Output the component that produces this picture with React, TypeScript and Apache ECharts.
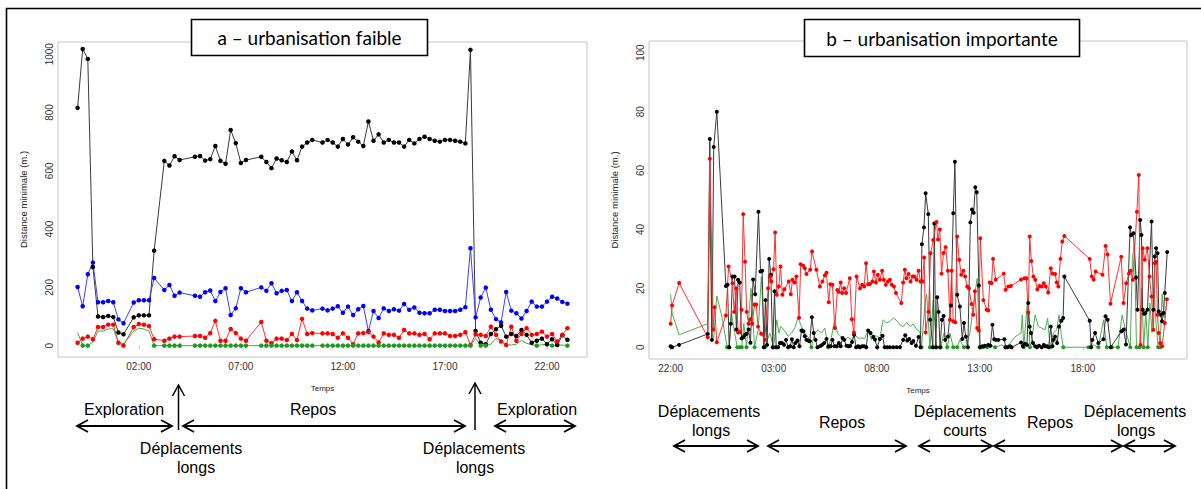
import React, { useEffect, useRef } from "react";
import * as echarts from "echarts";

// ---------- Panel a : urbanisation faible (hours; -1 = 23:00 the day before) ----------
const aTimes = [
  -1, -0.75, -0.5, -0.25, 0, 0.25, 0.5, 0.75, 1, 1.25,
  1.75, 2, 2.25, 2.5, 2.75,
  3.25, 3.5, 3.75, 4,
  4.75, 5, 5.25, 5.5, 5.75, 6, 6.25, 6.5, 6.75, 7, 7.25,
  8, 8.25, 8.5, 8.75, 9, 9.25, 9.5, 9.75, 10, 10.25, 10.5,
  11, 11.25, 11.5, 11.75, 12, 12.25, 12.5, 12.75, 13, 13.25,
  13.5, 13.75, 14, 14.25, 14.5, 14.75, 15, 15.25, 15.5, 15.75,
  16, 16.25, 16.5, 16.75, 17, 17.25, 17.5, 17.75, 18, 18.25,
  18.5, 18.75, 19, 19.25, 19.5, 19.75, 20, 20.25, 20.5, 20.75,
  21, 21.25, 21.5, 21.75, 22, 22.25, 22.5, 22.75, 23,
];
const aBlack = [
  816, 1018, 984, 270, 100, 98, 102, 98, 45, 39,
  97, 104, 104, 104, 326,
  634, 618, 650, 637,
  648, 651, 635, 640, 685, 634, 624, 740, 695, 627, 637,
  648, 630, 609, 642, 636, 630, 666, 636, 683, 697, 706,
  697, 706, 697, 683, 709, 690, 715, 700, 685, 769,
  703, 725, 697, 706, 697, 697, 683, 706, 694, 709,
  717, 709, 703, 700, 706, 706, 703, 700, 694, 1015,
  50, 10, 5, 40, 56, 68, 31, 40, 33, 54,
  37, 10, 17, 24, 5, 22, 2, 36, 20,
];
const aBlue = [
  201, 135, 245, 285, 149, 149, 153, 149, 90, 77,
  148, 156, 156, 156, 232,
  191, 208, 171, 182,
  171, 168, 183, 189, 153, 184, 197, 105, 128, 197, 183,
  200, 188, 214, 180, 188, 191, 153, 183, 153, 127, 121,
  127, 121, 127, 135, 113, 134, 105, 125, 136, 50,
  119, 95, 128, 119, 125, 120, 143, 123, 131, 113,
  111, 111, 123, 123, 119, 119, 119, 123, 132, 334,
  97, 165, 199, 123, 91, 80, 184, 120, 111, 93,
  119, 151, 134, 134, 151, 168, 162, 150, 144,
];
const aRed = [
  10, 24, 31, 22, 64, 64, 72, 72, 10, 0,
  64, 74, 72, 67, 22,
  17, 24, 31, 31,
  33, 33, 27, 43, 85, 17, 17, 57, 43, 24, 17,
  81, 17, 8, 24, 24, 19, 40, 19, 92, 40, 43,
  42, 42, 40, 27, 42, 27, 5, 42, 43, 47,
  31, 11, 42, 37, 37, 27, 54, 42, 42, 37,
  40, 22, 42, 42, 42, 33, 33, 37, 46, 2,
  39, 37, 33, 65, 37, 14, 2, 65, 17, 40,
  60, 37, 40, 48, 31, 40, 14, 37, 60,
];
const aGreen = [
  45, 0, 0, 12, 50, 50, 57, 58, 10, 5,
  50, 60, 57, 50, 0,
  0, 0, 0, 0,
  0, 0, 0, 0, 0, 0, 0, 0, 0, 0, 0,
  0, 0, 0, 0, 0, 0, 0, 0, 0, 0, 0,
  0, 0, 0, 0, 0, 0, 0, 0, 0, 0,
  0, 0, 0, 0, 0, 0, 0, 0, 0, 0,
  0, 0, 0, 0, 0, 0, 0, 0, 0, 0,
  25, 0, 0, 5, 25, 15, 3, 2, 5, 18,
  8, 3, 0, 3, 5, 0, 2, 2, 0,
];
const aXTicks = [2, 7, 12, 17, 22];
const aXTickLabels = ["02:00", "07:00", "12:00", "17:00", "22:00"];
const aYTicks = [0, 200, 400, 600, 800, 1000];

// ---------- Panel b : urbanisation importante (hours; 24 = midnight) ----------
const bBlack = [
  [22.0, 0.3], [22.07, 0], [22.41, 0.8], [23.8, 4.5], [23.9, 70.7], [24.0, 2.5], [24.09, 68], [24.24, 80],
  [24.68, 20.8], [24.76, 21.2], [24.84, 0], [24.92, 8], [25.0, 24], [25.1, 24], [25.19, 6], [25.27, 22.9],
  [25.35, 22], [25.44, 3], [25.52, 3.4], [25.61, 4.2], [25.69, 4.6], [25.78, 6], [25.87, 1.5], [26.0, 23],
  [26.1, 18], [26.26, 46], [26.36, 25.7], [26.44, 26], [26.52, 0], [26.6, 16], [26.68, 0.8], [26.78, 30],
  [26.86, 24.6], [26.95, 0], [27.04, 19], [27.12, 0], [27.21, 0], [27.3, 1.4], [27.4, 1.4], [27.5, 0.8],
  [27.6, 2.5], [27.7, 0], [27.8, 0.3], [27.88, 2.7], [27.97, 0], [28.05, 1.4], [28.15, 2.3], [28.25, 0.3],
  [28.35, 5.7], [28.44, 5.4], [28.51, 3.7], [28.59, 2.5], [28.67, 2.3], [28.75, 2.0], [28.85, 10.2], [28.94, 4.8],
  [29.03, 2.5], [29.12, 0], [29.25, 0.3], [29.35, 0.8], [29.45, 1.4], [29.56, 2.8], [29.66, 0.3], [29.77, 0.3],
  [29.85, 2.5], [29.96, 0.3], [30.06, 0.3], [30.16, 1.4], [30.25, 0.3], [30.34, 3.1], [30.42, 2.5], [30.53, 0.5],
  [30.63, 0.3], [30.71, 0.5], [30.8, 1.8], [30.9, 4.2], [31.0, 0], [31.1, 0.3], [31.18, 0], [31.29, 0.3],
  [31.39, 0.3], [31.49, 0], [31.58, 5.7], [31.7, 4.8], [31.83, 3.5], [31.91, 2.6], [32.02, 0], [32.15, 2.8],
  [32.28, 3.9], [32.38, 0], [32.51, 0], [32.64, 0], [32.8, 0], [32.96, 0], [33.12, 0], [33.28, 2.5],
  [33.38, 4.1], [33.48, 2.3], [33.57, 2.8], [33.69, 1.4], [33.77, 2.1], [33.9, 0.5], [34.03, 3.5], [34.12, 0],
  [34.19, 35], [34.29, 40.7], [34.37, 52.3], [34.5, 45.2], [34.59, 9.3], [34.72, 0], [34.79, 42], [34.86, 0],
  [34.93, 17], [35.0, 12], [35.07, 0], [35.16, 9.3], [35.24, 10.6], [35.32, 2.5], [35.45, 3.6], [35.6, 14.2],
  [35.71, 45.5], [35.79, 63], [35.9, 17.8], [36.03, 13.8], [36.15, 2.8], [36.23, 8.2], [36.32, 3.6], [36.42, 0],
  [36.54, 42.4], [36.62, 46.8], [36.7, 45.7], [36.78, 54.3], [36.85, 52.6], [36.95, 21], [37.01, 0], [37.13, 0.3],
  [37.25, 0.5], [37.41, 0.8], [37.51, 0.5], [37.61, 7.6], [37.7, 2.7], [37.78, 2.5], [37.9, 2.5], [38.19, 2.7],
  [38.25, 0], [38.35, 0], [38.46, 0.3], [38.54, 0], [39.0, 1.6], [39.09, 0.3], [39.19, 1.2], [39.29, 0.8],
  [39.35, 15], [39.42, 7], [39.48, 4.8], [39.58, 1.4], [39.68, 0.3], [39.77, 0], [39.87, 0.5], [40.0, 0],
  [40.1, 0.8], [40.16, 0.3], [40.26, 0.3], [40.34, 0], [40.44, 7], [40.52, 0.3], [40.57, 2.5], [40.65, 3.6],
  [40.75, 1.4], [40.84, 7], [40.96, 9], [41.04, 9.9], [41.1, 24], [42.33, 9], [42.4, 0], [42.46, 2.5],
  [42.59, 4.8], [42.75, 1.4], [43.0, 2.7], [43.1, 10.5], [43.2, 9.3], [43.35, 0], [43.87, 5.4], [43.98, 6],
  [44.09, 0.9], [44.29, 40.7], [44.34, 38], [44.45, 38.7], [44.58, 23.7], [44.65, 12.7], [44.78, 43.2], [44.84, 38.1],
  [44.9, 12.7], [44.97, 11.4], [45.03, 11.6], [45.13, 12.7], [45.33, 42.7], [45.42, 12.7], [45.49, 30.8], [45.55, 33.6],
  [45.62, 31.9], [45.68, 12.1], [45.78, 11], [45.84, 8.8], [45.91, 11.6], [45.97, 18.4], [46.09, 32.3],
];
const bRed = [
  [22.0, 8], [22.07, 14.2], [22.41, 21.8], [23.8, 3.4], [23.9, 64], [24.06, 6], [24.13, 13.6], [24.24, 1.7],
  [24.68, 10.8], [24.81, 27.4], [25.0, 21.7], [25.08, 12], [25.19, 20], [25.27, 5], [25.36, 5.2], [25.44, 12.7],
  [25.52, 45.2], [25.61, 29], [25.69, 12], [25.78, 8], [25.87, 9.5], [25.96, 8], [26.07, 14.5], [26.15, 14.5],
  [26.24, 7], [26.39, 4.6], [26.57, 2.5], [26.73, 20], [26.81, 24], [26.89, 22.3], [26.99, 26.5], [27.07, 39],
  [27.15, 17.8], [27.25, 20.6], [27.33, 27.4], [27.42, 17.8], [27.52, 19.7], [27.73, 22.3], [27.83, 18], [27.91, 22.9],
  [28.01, 22], [28.1, 24], [28.23, 10], [28.31, 28.2], [28.43, 27.7], [28.51, 26.8], [28.59, 24.9], [28.77, 26.3],
  [28.86, 32.5], [29.07, 26.3], [29.24, 20.6], [29.36, 22.3], [29.48, 24.4], [29.56, 25.3], [29.67, 15.3], [29.75, 21.4],
  [29.85, 21.2], [29.96, 6.5], [30.09, 19.4], [30.16, 18.8], [30.25, 22], [30.32, 18.4], [30.42, 20], [30.51, 18.4],
  [30.69, 23.4], [30.79, 9.5], [30.89, 5], [31.02, 24], [31.19, 20], [31.29, 21.2], [31.39, 20.6], [31.48, 28.5],
  [31.58, 21.4], [31.67, 21.5], [31.79, 22.3], [31.86, 25.7], [31.96, 22], [32.05, 24.6], [32.15, 22.9], [32.26, 26],
  [32.34, 22.9], [32.44, 21.2], [32.54, 22.3], [32.64, 22.9], [32.73, 21.2], [32.83, 20.6], [32.93, 18.4], [33.19, 15],
  [33.28, 22], [33.36, 26.3], [33.44, 23.4], [33.54, 24.9], [33.64, 22.3], [33.74, 24], [33.83, 24], [33.93, 22.9],
  [34.03, 26], [34.12, 22.3], [34.22, 22.3], [34.3, 30.5], [34.37, 5], [34.51, 12], [34.61, 31.9], [34.74, 36.4],
  [34.9, 42.5], [34.97, 36.6], [35.06, 40], [35.14, 25], [35.24, 32], [35.34, 34], [35.45, 26], [35.55, 9.3],
  [35.63, 26], [35.71, 8.8], [35.81, 8.5], [35.9, 37.6], [36.0, 29.7], [36.1, 24.6], [36.2, 26], [36.29, 24],
  [36.39, 20.6], [36.47, 20], [36.6, 14.7], [36.68, 11], [36.76, 19], [36.87, 6.5], [36.95, 5.7], [37.02, 37],
  [37.17, 16], [37.33, 12.7], [37.41, 12.5], [37.48, 22], [37.57, 21.8], [37.64, 30], [37.77, 22.9], [38.16, 25],
  [38.25, 19.5], [38.38, 20.6], [38.51, 20.8], [39.0, 23], [39.16, 23.4], [39.26, 23.4], [39.35, 11.8], [39.42, 37.6],
  [39.5, 29.3], [39.6, 24], [39.69, 22.9], [39.79, 19.7], [39.89, 20.8], [40.0, 20.6], [40.1, 21.7], [40.2, 20.6],
  [40.32, 18.6], [40.44, 26.8], [40.53, 25], [40.65, 24.9], [40.73, 22], [40.81, 20.6], [40.91, 30], [41.0, 35.9],
  [41.1, 37.8], [42.33, 30], [42.43, 24], [42.52, 23], [42.62, 25.7], [42.95, 24.6], [43.1, 34.4], [43.2, 31.5],
  [43.34, 14.8], [43.86, 30.7], [43.97, 15], [44.1, 21.7], [44.23, 25], [44.32, 26], [44.42, 22.9], [44.62, 46],
  [44.71, 58.5], [44.8, 0.8], [44.9, 33.6], [45.0, 29.7], [45.13, 33.6], [45.23, 24], [45.33, 17.2], [45.42, 5.9],
  [45.49, 28.5], [45.55, 29], [45.62, 11], [45.68, 4.8], [45.75, 1.4], [45.84, 0.3], [45.97, 8.2], [46.07, 16.3],
];
const bGreen = [
  [22.0, 18], [22.07, 11.6], [22.41, 4.2], [23.8, 8], [23.9, 50], [24.0, 2], [24.09, 3], [24.24, 17.4],
  [24.5, 10], [24.74, 0], [24.84, 0], [24.95, 11.6], [25.1, 5], [25.23, 0], [25.36, 0], [25.45, 0],
  [25.55, 8], [25.68, 0], [25.9, 20], [26.07, 0], [26.25, 6], [26.4, 24], [26.57, 0], [26.81, 4.8],
  [26.99, 0], [27.15, 9.3], [27.25, 4.8], [27.34, 7], [27.54, 5.6], [27.7, 3.7], [27.86, 4.8], [28.02, 6.5],
  [28.18, 10], [28.35, 7], [28.51, 4.8], [28.67, 3.4], [28.83, 0], [28.99, 4.8], [29.15, 5.9], [29.32, 4.8],
  [29.48, 6.5], [29.64, 0], [29.8, 3.4], [29.96, 9.3], [30.09, 4.8], [30.29, 3.4], [30.45, 2.5], [30.61, 3.4],
  [30.77, 2.5], [30.93, 4.2], [31.1, 3.1], [31.26, 3.1], [31.42, 3.1], [31.58, 5.9], [31.74, 2.5], [31.83, 4.2],
  [31.99, 3.7], [32.15, 3.1], [32.31, 9.3], [32.47, 8.2], [32.64, 8.8], [32.8, 9.9], [32.96, 9.1], [33.12, 7.6],
  [33.28, 7], [33.45, 8.4], [33.61, 7], [33.77, 7.9], [33.93, 6.1], [34.09, 5.3], [34.17, 0], [34.34, 15],
  [34.42, 18], [34.58, 0], [34.74, 16], [34.9, 0], [35.1, 0], [35.26, 4.8], [35.42, 0], [35.55, 4.8],
  [35.71, 0], [35.9, 0], [36.03, 2.5], [36.23, 0], [36.36, 0.8], [36.52, 4.8], [36.68, 13.8], [36.81, 20.6],
  [36.87, 23.4], [37.0, 0], [37.17, 0], [37.36, 0], [37.57, 0.5], [37.74, 0], [38.06, 0.8], [38.25, 0],
  [38.48, 1.4], [38.71, 3.6], [38.87, 4.2], [39.0, 4.8], [39.06, 11], [39.13, 0], [39.32, 16.7], [39.43, 0],
  [39.52, 2.5], [39.68, 11], [39.84, 7], [40.0, 6.5], [40.16, 5.9], [40.29, 9.9], [40.41, 0], [40.57, 4.8],
  [40.73, 5.9], [40.84, 11], [40.94, 4.8], [41.05, 0], [42.27, 0], [42.51, 0.8], [42.75, 0], [43.0, 9.3],
  [43.16, 0], [43.4, 0], [43.7, 0], [43.9, 11], [44.1, 5], [44.3, 0], [44.4, 30], [44.5, 35],
  [44.6, 0], [44.75, 0], [44.85, 20], [44.95, 0], [45.05, 12], [45.15, 0], [45.25, 15], [45.35, 5],
  [45.45, 20], [45.55, 8], [45.65, 0], [45.75, 0], [45.84, 18], [45.95, 10], [46.07, 15],
];
const bXTicks = [22, 27, 32, 37, 42];
const bXTickLabels = ["22:00", "03:00", "08:00", "13:00", "18:00"];
const bYTicks = [0, 20, 40, 60, 80, 100];

const titleA = "a – urbanisation faible";
const titleB = "b – urbanisation importante";
const axisNameY = "Distance minimale (m.)";
const axisNameX = "Temps";

const FONT = '"Liberation Sans", Arial, sans-serif';
const ANN_FONT = '16px "Liberation Sans", Arial, sans-serif';

function labelFor(ticks: number[], labels: string[]) {
  return (v: number) => {
    const i = ticks.findIndex((t) => Math.abs(t - v) < 1e-6);
    return i >= 0 ? labels[i] : "";
  };
}

function xAxisCfg(gridIndex: number, min: number, max: number, ticks: number[], labels: string[]) {
  return {
    type: "value",
    gridIndex,
    min,
    max,
    name: axisNameX,
    nameLocation: "middle",
    nameGap: 27,
    nameTextStyle: { fontSize: 8, color: "#222", fontFamily: FONT },
    axisLine: { show: false },
    splitLine: { show: false },
    axisTick: { show: true, length: 3, customValues: ticks, lineStyle: { color: "#bdbdbd" } },
    axisLabel: {
      customValues: ticks,
      formatter: labelFor(ticks, labels),
      fontSize: 10,
      color: "#333",
      fontFamily: FONT,
      margin: 4,
    },
  };
}

function yAxisCfg(gridIndex: number, min: number, max: number, ticks: number[]) {
  return {
    type: "value",
    gridIndex,
    min,
    max,
    name: axisNameY,
    nameLocation: "middle",
    nameGap: 30,
    nameRotate: 90,
    nameTextStyle: { fontSize: 9.5, color: "#222", fontFamily: FONT },
    axisLine: { show: false },
    splitLine: { show: false },
    axisTick: { show: false },
    axisLabel: {
      customValues: ticks,
      formatter: (v: number) => String(v),
      rotate: 90,
      fontSize: 10,
      color: "#333",
      fontFamily: FONT,
      margin: 4,
    },
  };
}

function lineSeries(idx: number, data: number[][], line: string, dot: string, size: number, zeroOnly = false) {
  return {
    type: "line",
    xAxisIndex: idx,
    yAxisIndex: idx,
    data,
    symbol: zeroOnly ? (v: number[]) => (v[1] === 0 ? "circle" : "none") : "circle",
    symbolSize: size,
    showSymbol: true,
    lineStyle: { color: line, width: 1 },
    itemStyle: { color: dot, borderWidth: 0 },
    silent: true,
  };
}

function hArrow(x1: number, x2: number, y: number) {
  const st = { stroke: "#000", lineWidth: 1.8, fill: null };
  return [
    { type: "line", shape: { x1, y1: y, x2, y2: y }, style: st },
    { type: "polyline", shape: { points: [[x1 + 11, y - 6], [x1, y], [x1 + 11, y + 6]] }, style: st },
    { type: "polyline", shape: { points: [[x2 - 11, y - 6], [x2, y], [x2 - 11, y + 6]] }, style: st },
  ];
}

function vArrow(x: number, yTip: number, yBottom: number) {
  const st = { stroke: "#000", lineWidth: 1.5, fill: null };
  return [
    { type: "line", shape: { x1: x, y1: yBottom, x2: x, y2: yTip }, style: st },
    { type: "polyline", shape: { points: [[x - 6, yTip + 11], [x, yTip], [x + 6, yTip + 11]] }, style: st },
  ];
}

function txt(text: string, x: number, y: number, font = ANN_FONT) {
  return {
    type: "text",
    x,
    y,
    style: { text, font, fill: "#000", align: "center", verticalAlign: "middle" },
  };
}

export default function App() {
  const ref = useRef<HTMLDivElement>(null);

  useEffect(() => {
    document.body.style.margin = "0";
    const chart = echarts.init(ref.current as HTMLDivElement, null, { renderer: "svg" });

    const aData = (vals: number[]) => aTimes.map((t, i) => [t, vals[i]]);

    const titleFont = '19px Lato, "Open Sans", sans-serif';

    const graphics: any[] = [
      // outer frame
      { type: "rect", shape: { x: 6.5, y: 8.5, width: 1300, height: 600 }, style: { fill: null, stroke: "#000", lineWidth: 1.6 } },
      // title boxes
      { type: "rect", z: 100, shape: { x: 191.5, y: 19.5, width: 236, height: 36 }, style: { fill: "#fff", stroke: "#000", lineWidth: 1.6 } },
      { ...txt(titleA, 309.5, 37.5, titleFont), z: 101 },
      { type: "rect", z: 100, shape: { x: 804.5, y: 19.5, width: 275, height: 37 }, style: { fill: "#fff", stroke: "#000", lineWidth: 1.6 } },
      { ...txt(titleB, 942, 38, titleFont), z: 101 },
      // panel a annotations
      txt("Exploration", 124, 409),
      ...hArrow(77, 172, 426),
      ...vArrow(178.5, 385, 430),
      txt("Repos", 313, 409),
      ...hArrow(183, 465, 426),
      ...vArrow(475, 383, 430),
      txt("Exploration", 537, 409),
      ...hArrow(495, 575, 426),
      txt("Déplacements", 191, 448),
      txt("longs", 196, 467),
      txt("Déplacements", 474, 448),
      txt("longs", 475, 467),
      // panel b annotations
      txt("Déplacements", 709, 411),
      txt("longs", 711, 430),
      ...hArrow(674, 758, 446),
      txt("Repos", 842, 422),
      ...hArrow(768, 906, 446),
      txt("Déplacements", 965, 411),
      txt("courts", 965, 430),
      ...hArrow(919, 992, 446),
      txt("Repos", 1050, 422),
      ...hArrow(994, 1122, 446),
      txt("Déplacements", 1135, 411),
      txt("longs", 1136, 430),
      ...hArrow(1124, 1175, 446),
    ];

    chart.setOption({
      animation: false,
      backgroundColor: "#fff",
      grid: [
        { left: 58, top: 42, width: 529, height: 315, show: true, borderColor: "#c4c4c4", borderWidth: 1, backgroundColor: "transparent" },
        { left: 649, top: 41, width: 538, height: 318, show: true, borderColor: "#c4c4c4", borderWidth: 1, backgroundColor: "transparent" },
      ],
      xAxis: [
        xAxisCfg(0, -1.96, 23.96, aXTicks, aXTickLabels),
        xAxisCfg(1, 20.95, 47.05, bXTicks, bXTickLabels),
      ],
      yAxis: [
        yAxisCfg(0, -39, 1042, aYTicks),
        yAxisCfg(1, -4, 104, bYTicks),
      ],
      series: [
        lineSeries(0, aData(aBlack), "#3a3a3a", "#000", 4.5),
        lineSeries(0, aData(aBlue), "#3d3dff", "#0000ff", 4.5),
        lineSeries(0, aData(aRed), "#ff3030", "#ff0000", 4.5),
        lineSeries(0, aData(aGreen), "#45a845", "#1e9a1e", 4.5, true),
        lineSeries(1, bGreen, "#4fac4f", "#1e9a1e", 4, true),
        lineSeries(1, bBlack, "#3a3a3a", "#000", 4),
        lineSeries(1, bRed, "#ff3030", "#ff0000", 4),
      ],
      graphic: graphics,
    });

    return () => chart.dispose();
  }, []);

  return <div ref={ref} style={{ width: 1201, height: 489 }} />;
}
